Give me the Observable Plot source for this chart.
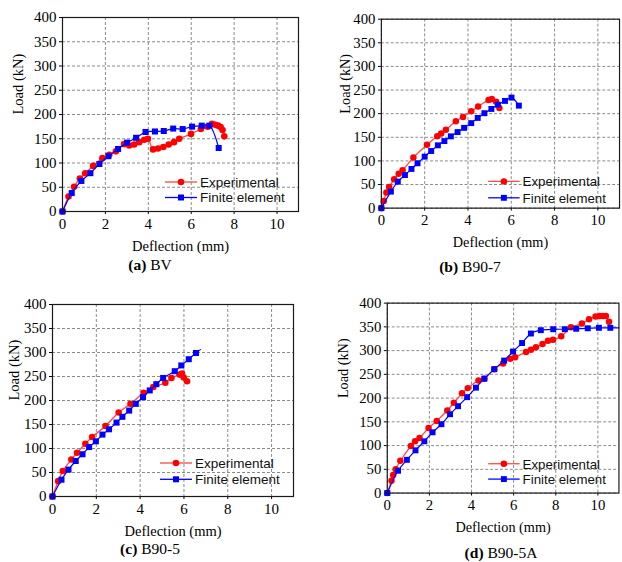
<!DOCTYPE html>
<html><head><meta charset="utf-8">
<script src="https://cdn.jsdelivr.net/npm/d3@7"></script>
<script src="https://cdn.jsdelivr.net/npm/@observablehq/plot@0.6"></script>
<style>
html,body{margin:0;padding:0;background:#fff;}
#root{position:relative;width:622px;height:562px;overflow:hidden;background:#fff;}
.panel{position:absolute;overflow:hidden;}
.cap{position:absolute;font-family:"Liberation Serif",serif;font-size:15.5px;line-height:15px;white-space:nowrap;transform:translateX(-50%);color:#000;}
</style></head><body><div id="root"></div>
<script>
// ---- data ----
const aExpX = [0, 0.28, 0.54, 0.81, 1.06, 1.43, 1.86, 2.18, 2.49, 2.87, 3.11, 3.34, 3.58, 3.81, 3.98, 4.22, 4.45, 4.70, 4.95, 5.20, 5.44, 5.99, 6.45, 6.77, 6.97, 7.12, 7.25, 7.37, 7.46, 7.54];
const aExpY = [0, 31, 51, 68, 79, 94, 110, 117, 124, 139, 136, 138, 143, 148, 150, 128, 130, 133, 138, 143, 150, 160, 170, 175, 181, 179, 177, 174, 168, 155];
const aFeX = [0, 0.43, 0.88, 1.30, 1.72, 2.14, 2.59, 3.01, 3.43, 3.87, 4.31, 4.72, 5.16, 5.60, 6.04, 6.49, 6.85, 7.28];
const aFeY = [0, 38, 63, 79, 98, 114, 129, 142, 152, 164, 165, 166, 171, 170, 175, 177, 177, 131];

const bExpX = [0, 0.11, 0.23, 0.36, 0.59, 0.80, 0.98, 1.48, 2.11, 2.58, 2.76, 2.98, 3.44, 3.77, 4.15, 4.47, 4.95, 5.10, 5.30, 5.45];
const bExpY = [0, 15, 33, 45, 61, 73, 80, 107, 134, 152, 158, 166, 184, 193, 205, 215, 229, 231, 225, 212];
const bFeX = [0, 0.44, 0.76, 1.09, 1.39, 1.67, 2.00, 2.30, 2.61, 2.91, 3.21, 3.52, 3.82, 4.15, 4.45, 4.76, 5.08, 5.38, 5.71, 6.01, 6.35];
const bFeY = [0, 35, 56, 70, 83, 95, 109, 121, 133, 142, 152, 161, 170, 180, 191, 201, 210, 219, 227, 234, 217];

const cExpX = [0, 0.26, 0.47, 0.86, 1.12, 1.50, 1.81, 2.42, 3.02, 3.56, 4.16, 4.60, 5.15, 5.43, 5.80, 5.91, 5.99, 6.14];
const cExpY = [0, 32, 53, 77, 91, 110, 124, 147, 175, 193, 216, 228, 237, 247, 254, 256, 248, 240];
const cFeX = [0, 0.41, 0.73, 1.06, 1.37, 1.67, 1.98, 2.28, 2.58, 2.92, 3.19, 3.50, 3.80, 4.13, 4.44, 4.74, 5.05, 5.58, 5.88, 6.22, 6.55, 6.75];
const cFeY = [0, 35, 56, 74, 88, 103, 115, 129, 140, 154, 166, 179, 193, 207, 221, 234, 247, 261, 273, 286, 299, 306];

const dExpX = [0, 0.20, 0.28, 0.40, 0.62, 1.12, 1.32, 1.53, 1.96, 2.35, 2.85, 3.16, 3.55, 3.82, 4.33, 4.61, 5.08, 5.50, 5.84, 6.07, 6.59, 6.82, 7.06, 7.37, 7.63, 7.87, 8.26, 8.72, 9.24, 9.58, 9.89, 10.09, 10.25, 10.38, 10.53];
const dExpY = [0, 26, 38, 50, 68, 99, 109, 116, 137, 152, 174, 190, 210, 221, 237, 241, 261, 273, 283, 286, 297, 302, 307, 314, 321, 323, 330, 349, 357, 366, 372, 373, 373, 373, 361];
const dFeX = [0, 0.51, 0.93, 1.34, 1.76, 2.15, 2.57, 2.98, 3.36, 3.79, 4.21, 4.61, 5.08, 5.55, 5.97, 6.40, 6.82, 7.29, 7.88, 8.43, 8.97, 9.52, 10.05, 10.59, 11.0];
const dFeY = [0, 47, 70, 90, 109, 128, 145, 166, 183, 202, 222, 241, 261, 279, 298, 316, 336, 343, 345, 345, 346, 347, 348, 348, 348];

const xTicks = [0, 2, 4, 6, 8, 10];
const yTicks = [0, 50, 100, 150, 200, 250, 300, 350, 400];
const seriesNames = ["Experimental", "Finite element"];
const xTitle = "Deflection (mm)";
const yTitle = "Load (kN)";
const capLetters = ["(a)", "(b)", "(c)", "(d)"];
const capNames = ["BV", "B90-7", "B90-5", "B90-5A"];

// ---- layout ----
const panels = [
  {exp:[aExpX,aExpY], fe:[aFeX,aFeY], feMarkAll:true,  left:0,   top:0,   w:311, h:255, ml:62, mr:13,  mt:17, mb:44, ydx:-44,  leg:{x1:165,x2:197,tx:200,y1:182,y2:197.5}, cap:{x:150,y:257}},
  {exp:[bExpX,bExpY], fe:[bFeX,bFeY], feMarkAll:true,  left:311, top:0,   w:316, h:255, ml:71, mr:3,   mt:19, mb:44, ydx:-37,  leg:{x1:180,x2:212,tx:215,y1:184.3,y2:201}, cap:{x:159,y:259}},
  {exp:[cExpX,cExpY], fe:[cFeX,cFeY], feMarkAll:false, left:0,   top:280, w:311, h:260, ml:52, mr:18,  mt:24, mb:44, ydx:-38,  leg:{x1:160,x2:192,tx:195,y1:183,y2:199.3}, cap:{x:150,y:261}},
  {exp:[dExpX,dExpY], fe:[dFeX,dFeY], feMarkAll:false, left:311, top:280, w:316, h:260, ml:77, mr:3.6, mt:23, mb:44, ydx:-44.5,leg:{x1:180,x2:212,tx:215,y1:186.7,y2:202.3}, cap:{x:190,y:265}}
];

const RED_LINE = "#ff4545", RED = "#ff0000", BLUE = "#0000ff";
const root = document.getElementById("root");

panels.forEach((p, k) => {
  const exp = p.exp[0].map((x, i) => ({x, y: p.exp[1][i]}));
  const fe = p.fe[0].map((x, i) => ({x, y: p.fe[1][i]}));
  const feDots = p.feMarkAll ? fe : fe.slice(0, -1);

  const svg = Plot.plot({
    width: p.w, height: p.h,
    marginLeft: p.ml, marginRight: p.mr, marginTop: p.mt, marginBottom: p.mb,
    x: {domain: [0, 11]},
    y: {domain: [0, 400]},
    style: {fontFamily: '"Liberation Serif", serif', fontSize: "15px", color: "#000", background: "transparent", overflow: "visible"},
    marks: [
      Plot.gridX(xTicks, {stroke: "#8a8a8a", strokeOpacity: 1, strokeDasharray: "3,2", strokeWidth: 1}),
      Plot.gridY(yTicks, {stroke: "#8a8a8a", strokeOpacity: 1, strokeDasharray: "3,2", strokeWidth: 1}),
      Plot.axisX(xTicks, {tickSize: 3, tickPadding: 3.5, label: null, tickFormat: d => String(d)}),
      Plot.axisY(yTicks, {tickSize: 3, tickPadding: 3, label: null, tickFormat: d => String(d)}),
      Plot.text([xTitle], {text: d => d, frameAnchor: "bottom", dy: 35, lineAnchor: "middle", fontSize: 14.5}),
      Plot.text([yTitle], {text: d => d, frameAnchor: "left", rotate: -90, dx: p.ydx, lineAnchor: "middle", fontSize: 14.5}),
      Plot.line(exp, {x: "x", y: "y", stroke: RED_LINE, strokeWidth: 1.3, curve: "catmull-rom"}),
      Plot.dot(exp, {x: "x", y: "y", fill: RED, r: 3.3, stroke: null}),
      Plot.line(fe, {x: "x", y: "y", stroke: BLUE, strokeWidth: 1.2, curve: "catmull-rom"}),
      Plot.dot(feDots, {x: "x", y: "y", fill: BLUE, symbol: "square", r: 3.4, stroke: null}),
      Plot.frame({stroke: "#1a1a1a", strokeWidth: 1.2})
    ]
  });

  // legend
  const s = d3.select(svg);
  const g = s.append("g").attr("text-anchor", "start");
  const L = p.leg;
  const rows = [
    {y: L.y1, color: RED, lineColor: RED_LINE, sym: "circle", label: seriesNames[0]},
    {y: L.y2, color: BLUE, lineColor: BLUE, sym: "square", label: seriesNames[1]}
  ];
  rows.forEach(r => {
    g.append("line").attr("x1", L.x1).attr("x2", L.x2).attr("y1", r.y).attr("y2", r.y)
      .attr("stroke", r.lineColor).attr("stroke-width", 1.3);
    const mx = (L.x1 + L.x2) / 2;
    if (r.sym === "circle") g.append("circle").attr("cx", mx).attr("cy", r.y).attr("r", 3.3).attr("fill", r.color);
    else g.append("rect").attr("x", mx - 3).attr("y", r.y - 3).attr("width", 6).attr("height", 6).attr("fill", r.color);
    g.append("text").attr("x", L.tx).attr("y", r.y).attr("dy", "0.36em")
      .attr("text-anchor", "start")
      .attr("font-family", '"Liberation Sans", Arial, sans-serif').attr("font-size", 13.5)
      .attr("fill", "#111").text(r.label);
  });

  const div = document.createElement("div");
  div.className = "panel";
  div.style.left = p.left + "px";
  div.style.top = p.top + "px";
  div.style.width = Math.min(p.w, 622 - p.left) + "px";
  div.style.height = "282px";
  div.appendChild(svg);
  const cap = document.createElement("div");
  cap.className = "cap";
  cap.style.left = p.cap.x + "px";
  cap.style.top = p.cap.y + "px";
  const b = document.createElement("b");
  b.textContent = capLetters[k];
  cap.appendChild(b);
  cap.appendChild(document.createTextNode(" " + capNames[k]));
  div.appendChild(cap);
  root.appendChild(div);
});
</script>
</body></html>
